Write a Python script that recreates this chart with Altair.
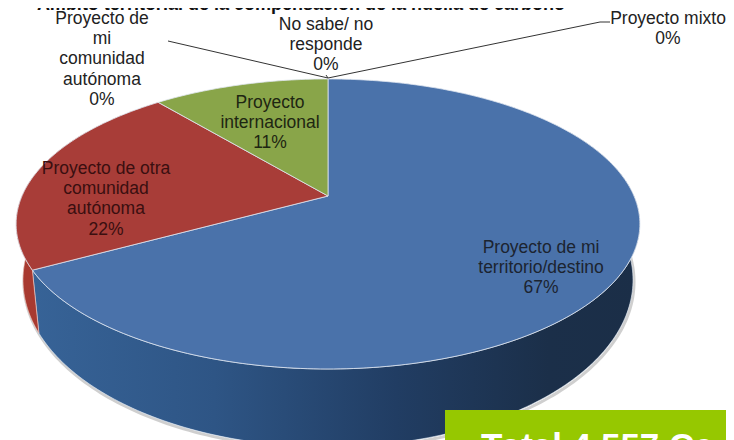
import math
import altair as alt
import pandas as pd

# ---- data
categories = ["Proyecto de mi territorio/destino", "Proyecto de otra comunidad autónoma", "Proyecto internacional",
              "Proyecto de mi comunidad autónoma", "No sabe/ no responde", "Proyecto mixto"]
shares = [67, 22, 11, 0, 0, 0]
title_text = "Ámbito territorial de la compensación de la huella de carbono"
total_text = "Total 4.557 Ce"

label_lines = [
    ["Proyecto de mi", "territorio/destino", "67%"],
    ["Proyecto de otra", "comunidad", "autónoma", "22%"],
    ["Proyecto", "internacional", "11%"],
    ["Proyecto de", "mi", "comunidad", "autónoma", "0%"],
    ["No sabe/ no", "responde", "0%"],
    ["Proyecto mixto", "0%"],
]

# ---- layout (page pixels)
label_anchor = [(541, 248), (106, 169), (270, 103), (102, 19), (326, 25), (668, 19)]
label_color = ["#1c2430", "#3a0f10", "#1e2612", "#222222", "#222222", "#222222"]
line_step = 20.2
leader_paths = [[(168, 41), (328, 78)], [(326, 75), (328, 78)], [(328, 78), (600, 22), (610, 22)]]
APEX = (328, 196)
A, B, P = 306.0, 139.6, 0.193
BOT_SX, BOT_CY, BOT_RY, TOP_CY, TOP_RY = 0.978, 280.0, 167.0, 224.0, 145.0

x_scale = alt.Scale(domain=[8, 726], range=[0, 718])
y_scale = alt.Scale(domain=[8, 440], range=[0, 432])


def top(t_deg):
    t = math.radians(t_deg)
    X, Y = math.sin(t), -math.cos(t)
    d = 1 - P * Y
    return APEX[0] + A * X / d, APEX[1] + B * Y / d


def bottom(pt):
    return APEX[0] + (pt[0] - APEX[0]) * BOT_SX, BOT_CY + (pt[1] - TOP_CY) * BOT_RY / TOP_RY


def sweep(a, b, step=1.0):
    n = max(2, int(abs(b - a) / step))
    return [a + (b - a) * i / n for i in range(n + 1)]


def poly(points, **mark):
    df = pd.DataFrame({"x": [p[0] for p in points], "y": [p[1] for p in points], "i": range(len(points))})
    return alt.Chart(df).mark_line(interpolate="linear", **mark).encode(
        x=alt.X("x:Q", scale=x_scale, axis=None),
        y=alt.Y("y:Q", scale=y_scale, axis=None),
        order="i:Q",
    )


def grad(*stops):
    return alt.LinearGradient(
        gradient="linear", x1=0, x2=1, y1=0, y2=0,
        stops=[alt.GradientStop(offset=o, color=c) for o, c in stops],
    )


# slice boundaries, clockwise from the top
bounds = [0.0]
for s in shares:
    bounds.append(bounds[-1] + s * 3.6)


def find_extreme(lo, hi):
    for _ in range(50):
        mid = (lo + hi) / 2
        if top(mid)[1] > TOP_CY:
            if lo < 180:
                lo = mid
            else:
                hi = mid
        else:
            if lo < 180:
                hi = mid
            else:
                lo = mid
    return (lo + hi) / 2


right_ext = find_extreme(60, 120)
left_ext = find_extreme(240, 300)

layers = []

# soft shadow under the wall
rim = [bottom(top(t)) for t in sweep(right_ext, left_ext)]
layers.append(poly([(p[0] + 1, p[1] + 2) for p in rim], stroke="#c4c4c4", strokeWidth=3, fill="transparent", opacity=0.8))

# walls
blue_rim = [top(t) for t in sweep(right_ext, bounds[1])]
wall_blue = blue_rim + [bottom(p) for p in reversed(blue_rim)]
wall_blue.append(wall_blue[0])
layers.append(poly(wall_blue, stroke="#e6eef8", strokeWidth=0.6,
                   fill=grad((0, "#376397"), (0.3, "#2e5585"), (0.6, "#213d63"), (0.85, "#1b2f49"), (1, "#1b2e47"))))
red_rim = [top(t) for t in sweep(bounds[1], left_ext)]
wall_red = red_rim + [bottom(p) for p in reversed(red_rim)]
wall_red.append(wall_red[0])
layers.append(poly(wall_red, stroke="#f0c8c0", strokeWidth=0.6, fill="#a83a30"))

# top face
face_colors = ["#4a72aa", "#a83d38", "#89a549"]
for i in range(3):
    pts = [APEX] + [top(t) for t in sweep(bounds[i], bounds[i + 1])] + [APEX]
    layers.append(poly(pts, fill=face_colors[i], stroke="#dfe6f0", strokeWidth=0.8))

# leaders
for path in leader_paths:
    layers.append(poly(path, stroke="#333333", strokeWidth=1))

# labels
rows = []
for lines, (ax, ay), col in zip(label_lines, label_anchor, label_color):
    for k, line in enumerate(lines):
        rows.append({"x": ax, "y": ay + k * line_step, "t": line, "c": col})
layers.append(
    alt.Chart(pd.DataFrame(rows)).mark_text(font="Liberation Sans", fontSize=17.5, align="center", baseline="middle")
    .encode(x=alt.X("x:Q", scale=x_scale, axis=None), y=alt.Y("y:Q", scale=y_scale, axis=None), text="t:N",
            color=alt.Color("c:N", scale=None))
)

# green total banner
banner = pd.DataFrame({"x": [445], "x2": [726], "y": [410], "y2": [440]})
layers.append(
    alt.Chart(banner).mark_rect(color="#96c800").encode(
        x=alt.X("x:Q", scale=x_scale, axis=None), x2="x2:Q",
        y=alt.Y("y:Q", scale=y_scale, axis=None), y2="y2:Q")
)
layers.append(
    alt.Chart(pd.DataFrame({"x": [481], "y": [458], "t": [total_text]})).mark_text(
        font="Liberation Sans", fontWeight="bold", fontSize=35, color="white", align="left", baseline="alphabetic")
    .encode(x=alt.X("x:Q", scale=x_scale, axis=None), y=alt.Y("y:Q", scale=y_scale, axis=None), text="t:N")
)
# clipped running head at the very top of the picture
layers.append(
    alt.Chart(pd.DataFrame({"x": [565], "y": [10], "t": [title_text]})).mark_text(
        font="Liberation Sans", fontWeight="bold", fontSize=18, color="#111111", align="right", baseline="alphabetic")
    .encode(x=alt.X("x:Q", scale=x_scale, axis=None), y=alt.Y("y:Q", scale=y_scale, axis=None), text="t:N")
)

chart = alt.layer(*layers).properties(
    width=718, height=432, padding=0, autosize=alt.AutoSizeParams(type="none"), background="white"
).configure_view(stroke=None)

chart.save("out.html", embed_options={"renderer": "svg", "actions": False})
